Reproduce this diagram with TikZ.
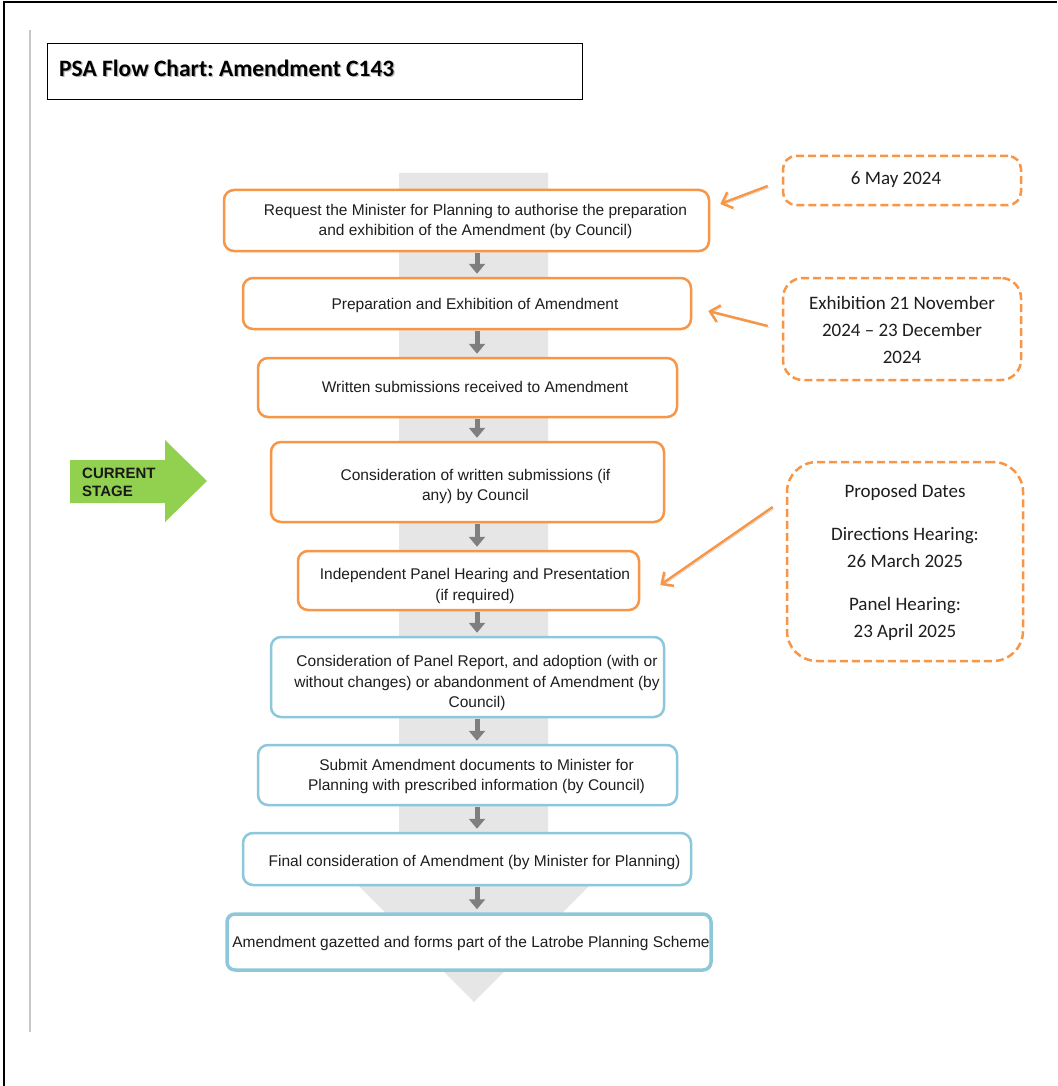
\documentclass[tikz,border=0pt]{standalone}
\usepackage{fontspec}
\setmainfont{Liberation Sans}
\newfontfamily\calib{Carlito}
\frenchspacing
\usetikzlibrary{arrows.meta}
\definecolor{borange}{RGB}{247,150,70}
\definecolor{bblue}{RGB}{140,200,218}
\definecolor{bandgray}{RGB}{230,230,230}
\definecolor{arrowgray}{RGB}{127,127,127}
\definecolor{cgreen}{RGB}{146,208,80}
\definecolor{textdark}{RGB}{30,30,30}
\begin{document}
\begin{tikzpicture}[x=1pt,y=-1pt,
  stepbox/.style={draw=borange, line width=2.5pt, rounded corners=10pt, fill=white, inner sep=0pt},
  bluebox/.style={stepbox, draw=bblue},
  datebox/.style={draw=borange, line width=2.5pt, dash pattern=on 8pt off 4pt, fill=white, inner sep=0pt},
  txt/.style={inner sep=0pt, align=center, text=textdark, font=\fontsize{15.5}{20.5}\selectfont},
  dtxt/.style={inner sep=0pt, align=center, text=textdark, font=\calib\fontsize{19}{27}\selectfont},
  steparrow/.style={draw=arrowgray, line width=5pt, -{Triangle[width=16pt,length=10pt]}, shorten <=1pt, shorten >=3pt},
  datearrow/.style={draw=borange, line width=2.5pt, -{Straight Barb[length=9pt,width=17pt]},
    preaction={draw=black!22, transform canvas={shift={(1.5pt,-1.5pt)}}}}
]
\useasboundingbox (0,0) rectangle (1057,1086);
\fill[white] (0,0) rectangle (1057,1086);

% outer frame and side rule
\draw[line width=2pt, black] (4,1086) -- (4,2) -- (1057,2);
\draw[line width=1.5pt, black!22] (30,30) -- (30,1032);

% title
\node[draw=black, line width=1pt, minimum width=535pt, minimum height=56pt, anchor=north west, inner sep=0pt] (tbox) at (47,43) {};
\node[anchor=west, inner sep=0pt, text=black!28, font=\calib\bfseries\fontsize{23.5}{28}\selectfont] (tshadow) at (60.2,69.2) {PSA Flow Chart: Amendment C143};
\node[anchor=west, inner sep=0pt, text=black, font=\calib\bfseries\fontsize{23.5}{28}\selectfont] (title) at (59,68) {PSA Flow Chart: Amendment C143};

% background process arrow
\fill[bandgray] (399,173) -- (548,173) -- (548,885) -- (590,885) -- (474,1002) -- (358,885) -- (399,885) -- cycle;

\coordinate (ax) at (477,0);

% step boxes
\node[stepbox, minimum width=485pt, minimum height=61pt] (s1) at (466.5,220.5) {};
\node[stepbox, minimum width=448pt, minimum height=51pt] (s2) at (467,303.5) {};
\node[stepbox, minimum width=419pt, minimum height=59pt] (s3) at (467.5,387.5) {};
\node[stepbox, minimum width=393pt, minimum height=80pt] (s4) at (467.5,482) {};
\node[stepbox, minimum width=341pt, minimum height=59pt] (s5) at (468.5,580.5) {};
\node[bluebox, minimum width=393pt, minimum height=80pt] (s6) at (467.5,677) {};
\node[bluebox, minimum width=419pt, minimum height=60pt] (s7) at (467.5,775) {};
\node[bluebox, minimum width=448pt, minimum height=52pt] (s8) at (467,859) {};
\node[bluebox, line width=3.5pt, rounded corners=8pt, minimum width=484pt, minimum height=56pt] (s9) at (469,942) {};

\node[txt] (t1) at (475.5,221.5) {Request the Minister for Planning to authorise the preparation\\and exhibition of the Amendment (by Council)};
\node[txt] (t2) at (475,305) {Preparation and Exhibition of Amendment};
\node[txt] (t3) at (475,387) {Written submissions received to Amendment};
\node[txt] (t4) at (475.5,486.5) {Consideration of written submissions (if\\any) by Council};
\node[txt] (t5) at (475,586) {Independent Panel Hearing and Presentation\\(if required)};
\node[txt] (t6) at (477,683) {Consideration of Panel Report, and adoption (with or\\without changes) or abandonment of Amendment (by\\Council)};
\node[txt] (t7) at (476.5,776.5) {Submit Amendment documents to Minister for\\Planning with prescribed information (by Council)};
\node[txt] (t8) at (474.5,862) {Final consideration of Amendment (by Minister for Planning)};
\node[txt] (t9) at (471,943) {Amendment gazetted and forms part of the Latrobe Planning Scheme};

% step arrows
\foreach \a/\b in {s1/s2,s2/s3,s3/s4,s4/s5,s5/s6,s6/s7,s7/s8,s8/s9}
  \draw[steparrow] (\a.south -| ax) -- (\b.north -| ax);

% date boxes
\node[datebox, rounded corners=13pt, minimum width=238pt, minimum height=49pt] (d1) at (902,180.5) {};
\node[datebox, rounded corners=20pt, minimum width=238pt, minimum height=102pt] (d2) at (902,329) {};
\node[datebox, rounded corners=30pt, minimum width=236pt, minimum height=199pt] (d3) at (905,561.5) {};

\node[dtxt] (dt1) at (896,180) {6 May 2024};
\node[dtxt] (dt2) at (902,330) {Exhibition 21 November\\2024 – 23 December\\2024};
\node[dtxt] (dt3) at (905,562) {Proposed Dates\\[16pt]Directions Hearing:\\26 March 2025\\[16pt]Panel Hearing:\\23 April 2025};

% date arrows
\draw[datearrow] ([xshift=-14pt,yshift=-5.5pt]d1.west) -- ([xshift=10pt,yshift=16.5pt]s1.east);
\draw[datearrow] ([xshift=-14pt,yshift=3pt]d2.west) -- ([xshift=16pt,yshift=-7.5pt]s2.east);
\draw[datearrow] ([xshift=-13pt,yshift=54.5pt]d3.west) -- ([xshift=20pt,yshift=-4.5pt]s5.east);

% current stage marker
\fill[cgreen] (70,460) -- (165,460) -- (165,440) -- (207,481) -- (165,522) -- (165,503) -- (70,503) -- cycle;
\node[anchor=west, inner sep=0pt, align=left, text=black!90, font=\bfseries\fontsize{15}{18}\selectfont] (cur) at (82,482) {CURRENT\\STAGE};
\end{tikzpicture}
\end{document}
